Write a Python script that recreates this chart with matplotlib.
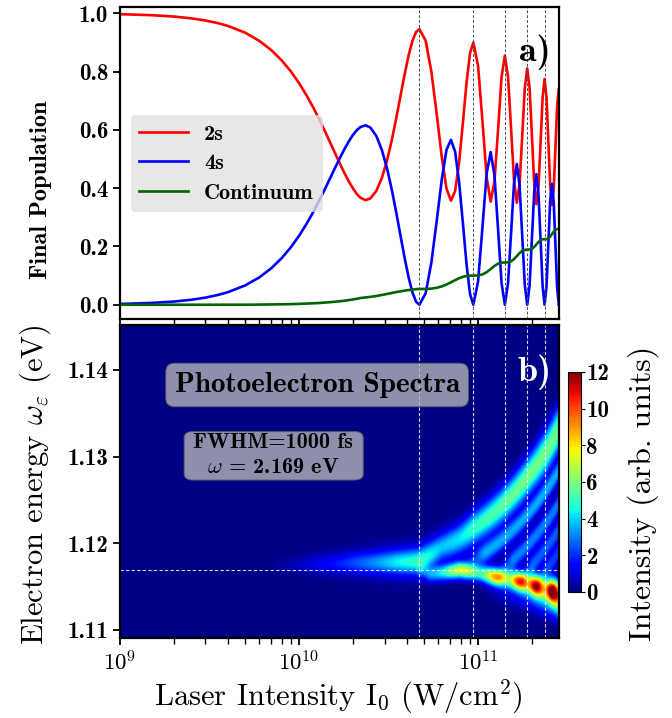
import numpy as np
import matplotlib
matplotlib.use('Agg')
import matplotlib.pyplot as plt
from matplotlib.patches import FancyBboxPatch

plt.rcParams['font.family'] = 'cmr10'
plt.rcParams['mathtext.fontset'] = 'cm'
plt.rcParams['axes.unicode_minus'] = False
plt.rcParams['axes.formatter.use_mathtext'] = True

# ---------------- panel a) : final populations (intensity in units of 1e10 W/cm^2)
intensity_e10 = [0.10, 0.15, 0.20, 0.25, 0.30, 0.35, 0.40, 0.50, 0.60, 0.70, 0.80, 0.90, 1.00,
                 1.10, 1.20, 1.30, 1.40, 1.50, 1.60, 1.70, 1.80, 1.90, 2.00, 2.10, 2.20, 2.35,
                 2.5, 2.7, 2.9, 3.1, 3.3, 3.5, 3.7, 3.9, 4.1, 4.3, 4.5, 4.7,
                 5.092, 5.483, 5.875, 6.267, 6.658, 7.05, 7.442, 7.833, 8.225, 8.617, 9.008, 9.4,
                 9.988, 10.575, 11.163, 11.75, 12.338, 12.925, 13.513, 14.1,
                 14.688, 15.275, 15.863, 16.45, 17.038, 17.625, 18.213, 18.8,
                 19.388, 19.975, 20.563, 21.15, 21.738, 22.325, 22.913, 23.5,
                 24.088, 24.675, 25.263, 25.85, 26.438, 27.025, 27.613, 28.2]
pop_2s = [0.9973, 0.9938, 0.9891, 0.9830, 0.9756, 0.9669, 0.9570, 0.9337, 0.9056, 0.8737, 0.8385, 0.8007, 0.7605,
          0.7186, 0.6767, 0.6346, 0.5932, 0.5533, 0.5157, 0.4812, 0.4496, 0.4221, 0.3992, 0.3804, 0.3673, 0.3590,
          0.3648, 0.3906, 0.4352, 0.4954, 0.5668, 0.6445, 0.7230, 0.7958, 0.8585, 0.9064, 0.9360, 0.9460,
          0.9065, 0.7990, 0.6525, 0.5063, 0.3985, 0.3570, 0.3907, 0.4897, 0.6264, 0.7633, 0.8634, 0.9000,
          0.8204, 0.6287, 0.4365, 0.3535, 0.4239, 0.6022, 0.7811, 0.8550,
          0.7814, 0.6044, 0.4267, 0.3500, 0.4140, 0.5779, 0.7427, 0.8110,
          0.7430, 0.5793, 0.4153, 0.3450, 0.4056, 0.5584, 0.7116, 0.7750,
          0.7120, 0.5601, 0.4081, 0.3425, 0.3985, 0.5398, 0.6815, 0.7400]
pop_4s = [0.0027, 0.0062, 0.0109, 0.0170, 0.0244, 0.0331, 0.0430, 0.0663, 0.0939, 0.1253, 0.1600, 0.1973, 0.2365,
          0.2774, 0.3183, 0.3594, 0.3993, 0.4377, 0.4738, 0.5068, 0.5364, 0.5619, 0.5828, 0.5991, 0.6097, 0.6160,
          0.6082, 0.5794, 0.5313, 0.4676, 0.3927, 0.3120, 0.2310, 0.1557, 0.0910, 0.0416, 0.0105, 0.0,
          0.0393, 0.1457, 0.2893, 0.4307, 0.5320, 0.5660, 0.5248, 0.4193, 0.2778, 0.1380, 0.0368, 0.0,
          0.0790, 0.2672, 0.4517, 0.5240, 0.4429, 0.2569, 0.0745, 0.0,
          0.0730, 0.2466, 0.4167, 0.4830, 0.4085, 0.2371, 0.0688, 0.0,
          0.0675, 0.2284, 0.3862, 0.4480, 0.3789, 0.2199, 0.0638, 0.0,
          0.0626, 0.2117, 0.3577, 0.4150, 0.3507, 0.2034, 0.0589, 0.0]
pop_cont = [0, 0, 0, 0, 0, 0, 0, 0, 0.0005, 0.001, 0.0015, 0.002, 0.003,
            0.004, 0.005, 0.006, 0.0075, 0.009, 0.0105, 0.012, 0.014, 0.016, 0.018, 0.0205, 0.023, 0.025,
            0.027, 0.030, 0.0335, 0.037, 0.0405, 0.0435, 0.046, 0.0485, 0.0505, 0.052, 0.0535, 0.054,
            0.0542, 0.0553, 0.0582, 0.0630, 0.0695, 0.0770, 0.0845, 0.0910, 0.0958, 0.0987, 0.0998, 0.1000,
            0.1006, 0.1041, 0.1118, 0.1225, 0.1332, 0.1409, 0.1444, 0.1450,
            0.1456, 0.1490, 0.1566, 0.1670, 0.1775, 0.1850, 0.1885, 0.1890,
            0.1895, 0.1923, 0.1985, 0.2070, 0.2155, 0.2217, 0.2246, 0.2250,
            0.2254, 0.2282, 0.2342, 0.2425, 0.2508, 0.2568, 0.2596, 0.2600]
rabi_lines_e10 = [4.7, 9.4, 14.1, 18.8, 23.5]

# ---------------- panel b) : photoelectron spectra features (intensity in 1e10 W/cm^2, energy in eV)
resonance_E = 1.1169
up_I = [0.6, 1.0, 2.0, 3.5, 4.7, 6.2, 7.9, 9.4, 14.5, 18.8, 24.2, 28.3]
up_E = [1.1173, 1.1175, 1.1177, 1.1178, 1.1179, 1.1195, 1.1205, 1.1217, 1.1249, 1.1276, 1.1307, 1.1333]
up_A = [0.0, 0.6, 2.0, 3.8, 4.4, 3.3, 3.7, 4.3, 4.9, 5.1, 5.1, 4.9]
up_W = [0.0006, 0.0007, 0.0008, 0.0009, 0.0010, 0.0010, 0.0011, 0.0012, 0.0013, 0.0014, 0.0016, 0.0017]
lo_I = [4.5, 5.4, 7.9, 12.6, 17.1, 21.0, 26.0, 28.3]
lo_E = [1.1170, 1.1164, 1.1169, 1.1161, 1.1156, 1.1151, 1.1145, 1.1142]
lo_A = [0.0, 2.8, 4.2, 4.6, 5.0, 5.5, 6.0, 6.5]
lo_W = [0.0006, 0.0006, 0.0006, 0.00065, 0.0007, 0.0008, 0.0009, 0.0010]
blob_I = [7.9, 12.6, 17.1, 21.0, 26.0]
blob_A = [3.0, 4.0, 4.6, 4.7, 5.0]
tail_I = [10.0, 20.0, 28.3]
tail_A = [0.0, 2.5, 4.5]
fr_sI = [7.9, 12.6, 17.1, 21.0]
fr_sE = [1.1172, 1.1165, 1.1160, 1.1155]
fr_eE = [1.1284, 1.1246, 1.1216, 1.1190]
fr_A = [3.4, 3.0, 2.6, 2.2]

x_min, x_max = 1e9, 2.83e11
e_min, e_max = 1.1090, 1.1452

# ---------------- build the spectrum map
lx = np.linspace(9, np.log10(x_max), 700)
Ie = 10 ** lx / 1e10
Eg = np.linspace(e_min, e_max, 500)
II, EE = np.meshgrid(Ie, Eg)


def g(e, c, w):
    return np.exp(-0.5 * ((e - c) / w) ** 2)


uE = np.interp(II, up_I, up_E); uA = np.interp(II, up_I, up_A); uW = np.interp(II, up_I, up_W)
Z = uA * g(EE, uE, uW) + 0.15 * uA * g(EE, uE, 0.0019)
lE = np.interp(II, lo_I, lo_E); lA = np.interp(II, lo_I, lo_A, left=0); lW = np.interp(II, lo_I, lo_W)
bump = np.zeros_like(II)
for bI, bA in zip(blob_I, blob_A):
    bump += bA * np.exp(-0.5 * ((II - bI) / 1.1) ** 2)
Z += (lA + bump) * g(EE, lE, lW)
tA = np.interp(II, tail_I, tail_A, left=0)
Z += tA * g(EE, lE - 0.0012, 0.0012)
for sI, sE, eE, fA in zip(fr_sI, fr_sE, fr_eE, fr_A):
    frac = np.clip((II - sI) / (28.3 - sI), 0, None)
    cE = sE + (eE - sE) * frac
    ramp = np.clip((II - sI) / 3.0, 0, 1)
    Z += fA * ramp * g(EE, cE, 0.0008)
Z = np.clip(Z, 0, 11.99)

# ---------------- figure
fig = plt.figure(figsize=(6.72, 7.18), dpi=100)
ax1 = fig.add_axes([0.1786, 0.5553, 0.6533, 0.4354])
ax2 = fig.add_axes([0.1786, 0.1110, 0.6533, 0.4364])
cax = fig.add_axes([0.8452, 0.1755, 0.0193, 0.3064])

TICK_FS = 16.5
I_arr = np.array(intensity_e10) * 1e10
ax1.plot(I_arr, pop_2s, color='red', lw=1.9, label='2s')
ax1.plot(I_arr, pop_4s, color='blue', lw=1.9, label='4s')
ax1.plot(I_arr, pop_cont, color='darkgreen', lw=1.9, label='Continuum')
for v in rabi_lines_e10:
    ax1.axvline(v * 1e10, color='0.3', ls=(0, (3, 2)), lw=0.7)
ax1.set_xscale('log')
ax1.set_xlim(x_min, x_max)
ax1.set_ylim(-0.05, 1.023)
yt = [0.0, 0.2, 0.4, 0.6, 0.8, 1.0]
ax1.set_yticks(yt)
ax1.set_yticklabels([f'{v:.1f}' for v in yt], fontfamily='cmb10', fontsize=TICK_FS)
ax1.tick_params(axis='x', which='both', labelbottom=False)
ax1.set_ylabel('Final Population', fontfamily='cmb10', fontsize=17.5)
ax1.yaxis.set_label_coords(-0.155, 0.413)
leg = ax1.legend(loc='upper left', bbox_to_anchor=(0.024, 0.653), borderaxespad=0,
                 prop={'family': 'cmb10', 'size': 16}, facecolor='#e2e2e2', edgecolor='none',
                 framealpha=0.8, fancybox=True, handlelength=2.2, handletextpad=0.7,
                 labelspacing=0.45)
ax1.text(0.945, 0.854, 'a)', transform=ax1.transAxes, ha='center', va='center',
         fontsize=26, fontfamily='cmb10', color='black')

levels = np.linspace(0, 12, 101)
cf = ax2.contourf(10 ** lx, Eg, Z, levels=levels, cmap='jet', vmin=0, vmax=12)
for v in rabi_lines_e10:
    ax2.axvline(v * 1e10, color='white', ls=(0, (3, 2)), lw=0.8, alpha=0.85)
ax2.axhline(resonance_E, color='white', ls=(0, (3, 2)), lw=0.8, alpha=0.85)
ax2.set_xscale('log')
ax2.set_xlim(x_min, x_max)
ax2.set_ylim(e_min, e_max)
et = [1.11, 1.12, 1.13, 1.14]
ax2.set_yticks(et)
ax2.set_yticklabels([f'{v:.2f}' for v in et], fontfamily='cmb10', fontsize=TICK_FS)
ax2.tick_params(axis='x', labelsize=TICK_FS)
ax2.set_xlabel(r'Laser Intensity I$_0$ (W/cm$^2$)', fontsize=22)
ax2.xaxis.set_label_coords(0.497, -0.125)
ax2.set_ylabel(r'Electron energy $\omega_\varepsilon$ (eV)', fontsize=22)
ax2.yaxis.set_label_coords(-0.153, 0.489)

box_fc = (0.7, 0.7, 0.72)
box = dict(boxstyle='round,pad=0.3', facecolor=box_fc, alpha=0.8, edgecolor='0.35', lw=0.8)
ax2.text(0.449, 0.8085, 'Photoelectron Spectra', transform=ax2.transAxes, ha='center', va='center',
         fontsize=21, fontfamily='cmb10', bbox=box)
ax2.add_patch(FancyBboxPatch((0.146, 0.505), 0.408, 0.155, boxstyle='round,pad=0,rounding_size=0.02',
                             transform=ax2.transAxes, facecolor=box_fc, alpha=0.8,
                             edgecolor='0.35', lw=0.8, zorder=3))
ax2.text(0.349, 0.624, 'FWHM=1000 fs', transform=ax2.transAxes, ha='center', va='center',
         fontsize=16, fontfamily='cmb10', zorder=4)
ax2.text(0.349, 0.546, r'$\omega$ = 2.169 eV', transform=ax2.transAxes, ha='center', va='center',
         fontsize=16, fontfamily='cmb10', zorder=4)
ax2.text(0.945, 0.850, 'b)', transform=ax2.transAxes, ha='center', va='center',
         fontsize=26, fontfamily='cmb10', color='white')

for ax in (ax1, ax2):
    for s in ax.spines.values():
        s.set_linewidth(1.6)
    ax.tick_params(which='major', direction='out', length=5, width=1.3)
    ax.tick_params(which='minor', direction='out', length=4, width=1.0)

cb = fig.colorbar(cf, cax=cax, ticks=[0, 2, 4, 6, 8, 10, 12])
cb.outline.set_linewidth(0.8)
cax.set_yticklabels([str(t) for t in [0, 2, 4, 6, 8, 10, 12]], fontfamily='cmb10', fontsize=TICK_FS)
cax.tick_params(length=3, width=0.8, pad=1)
cb.set_label('Intensity (arb. units)', fontsize=23)
cax.yaxis.set_label_coords(4.6, 0.45)

fig.savefig('out.png', dpi=100)
